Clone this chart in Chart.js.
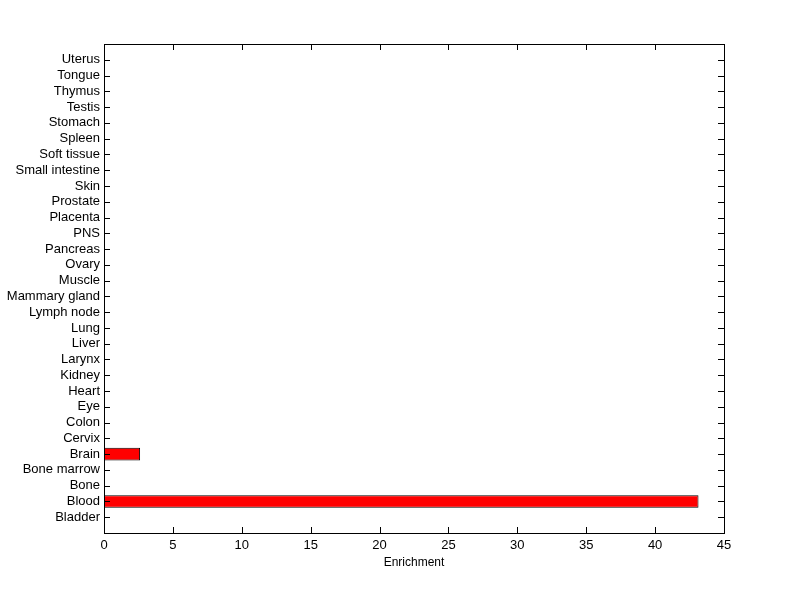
<!DOCTYPE html>
<html>
<head>
<meta charset="utf-8">
<script src="https://cdn.jsdelivr.net/npm/chart.js@4"></script>
<style>
  body { margin: 0; background: #fff; }
</style>
</head>
<body>
<canvas id="chart" width="800" height="599"></canvas>
<script>
// tissues, bottom to top
var tissues = ["Bladder", "Blood", "Bone", "Bone marrow", "Brain", "Cervix", "Colon", "Eye",
  "Heart", "Kidney", "Larynx", "Liver", "Lung", "Lymph node", "Mammary gland", "Muscle",
  "Ovary", "Pancreas", "PNS", "Placenta", "Prostate", "Skin", "Small intestine",
  "Soft tissue", "Spleen", "Stomach", "Testis", "Thymus", "Tongue", "Uterus"];
var enrichment = [0, 43.15, 0, 0, 2.62, 0, 0, 0, 0, 0, 0, 0, 0, 0, 0, 0,
  0, 0, 0, 0, 0, 0, 0, 0, 0, 0, 0, 0, 0, 0];
var xTicks = [0, 5, 10, 15, 20, 25, 30, 35, 40, 45];

var points = tissues.map(function (t, i) {
  return { x: enrichment[i], y: i + 1 };
});

// matlab-ish frame with ticks pointing inward
var innerTicks = {
  id: "innerTicks",
  afterDraw: function (chart) {
    var ctx = chart.ctx, a = chart.chartArea;
    var xs = chart.scales.x, ys = chart.scales.y;
    ctx.save();
    ctx.strokeStyle = "#000";
    ctx.lineWidth = 1;
    ctx.beginPath();
    for (var i = 1; i <= tissues.length; i++) {
      var y = Math.round(ys.getPixelForValue(i)) + 0.5;
      ctx.moveTo(a.left, y); ctx.lineTo(a.left + 6, y);
      ctx.moveTo(a.right, y); ctx.lineTo(a.right - 6, y);
    }
    xTicks.forEach(function (v) {
      var x = Math.round(xs.getPixelForValue(v)) + 0.5;
      ctx.moveTo(x, a.bottom); ctx.lineTo(x, a.bottom - 6);
      ctx.moveTo(x, a.top); ctx.lineTo(x, a.top + 6);
    });
    ctx.stroke();
    ctx.strokeRect(Math.round(a.left) + 0.5, Math.round(a.top) + 0.5,
      Math.round(a.right - a.left), Math.round(a.bottom - a.top));
    ctx.restore();
  }
};

Chart.defaults.font.family = "Arial, 'Liberation Sans', Helvetica, sans-serif";
Chart.defaults.font.size = 13;
Chart.defaults.color = "#000";

new Chart(document.getElementById("chart"), {
  type: "bar",
  data: {
    datasets: [{
      data: points,
      backgroundColor: "#ff0000",
      borderColor: "#000",
      borderWidth: 1,
      borderSkipped: false,
      barPercentage: 0.8,
      categoryPercentage: 1
    }]
  },
  options: {
    indexAxis: "y",
    responsive: false,
    animation: false,
    layout: { padding: { top: 44, right: 76, bottom: 29, left: 0 } },
    plugins: { legend: { display: false }, tooltip: { enabled: false } },
    scales: {
      x: {
        type: "linear",
        min: 0,
        max: 45,
        grid: { display: false, drawTicks: false },
        border: { display: false },
        ticks: { stepSize: 5, padding: 5 },
        title: { display: true, text: "Enrichment", font: { size: 12 }, padding: { top: -3, bottom: 0 } }
      },
      y: {
        type: "linear",
        offset: false,
        min: 0,
        max: tissues.length + 1,
        afterFit: function (s) { s.width = 104; },
        grid: { display: false, drawTicks: false },
        border: { display: false },
        ticks: {
          stepSize: 1,
          autoSkip: false,
          padding: 4,
          callback: function (v) { return tissues[v - 1] || ""; }
        }
      }
    }
  },
  plugins: [innerTicks]
});
</script>
</body>
</html>
